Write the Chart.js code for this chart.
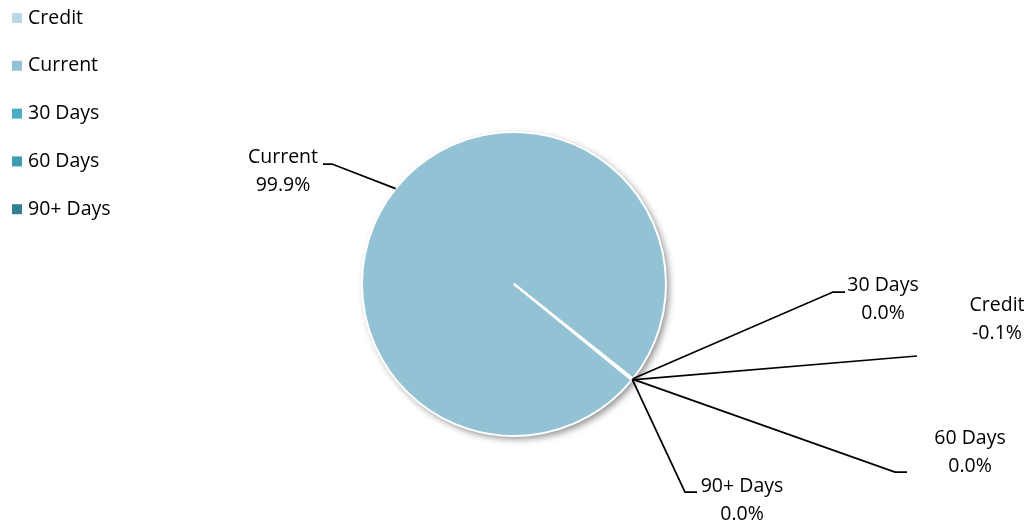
<!DOCTYPE html>
<html lang="en">
<head>
    <meta charset="UTF-8">
    <title>Aging Breakdown</title>
    <script src="https://cdn.jsdelivr.net/npm/chart.js@4.4.1/dist/chart.umd.min.js"></script>
    <style>
        body { margin: 0; background: #fff; }
        #wrap { width: 1029px; height: 524px; position: relative; }
    </style>
</head>
<body>
    <div id="wrap"><canvas id="agingPie" width="1029" height="524"></canvas></div>
    <script>
        // data (share of balance, in percent)
        const categories = ['Credit', 'Current', '30 Days', '60 Days', '90+ Days'];
        const shares = [-0.06, 99.925, 0.045, 0.045, 0.045];
        const sliceColors = ['#b7d8e4', '#93c2d4', '#4bacc6', '#3e9bb2', '#327f93'];

        // where each data label sits: elbow of leader line, end of line, text centre
        const labelSpots = {
            'Credit':   { elbow: [905, 357], end: [917, 356], text: [997, 305] },
            'Current':  { elbow: [332, 164], end: [323, 164], text: [283, 157] },
            '30 Days':  { elbow: [833, 292], end: [845, 292], text: [883, 285] },
            '60 Days':  { elbow: [895, 472], end: [907, 472], text: [970, 438] },
            '90+ Days': { elbow: [685, 492], end: [697, 492], text: [742, 486] }
        };

        const FONT = '19.5px "Open Sans", sans-serif';

        // soft drop shadow under the pie
        const pieShadow = {
            id: 'pieShadow',
            beforeDatasetsDraw(chart) {
                const arc = chart.getDatasetMeta(0).data[0];
                if (!arc) return;
                const ctx = chart.ctx;
                ctx.save();
                ctx.shadowColor = 'rgba(0,0,0,0.45)';
                ctx.shadowBlur = 7;
                ctx.shadowOffsetX = 3;
                ctx.shadowOffsetY = 3;
                ctx.fillStyle = '#ffffff';
                ctx.beginPath();
                ctx.arc(arc.x, arc.y, arc.outerRadius, 0, Math.PI * 2);
                ctx.fill();
                ctx.restore();
            }
        };

        // leader lines + value labels
        const pieLabels = {
            id: 'pieLabels',
            afterDatasetsDraw(chart) {
                const ctx = chart.ctx;
                const vals = chart.data.datasets[0].data;
                const total = vals.reduce((a, b) => a + b, 0);
                const arcs = chart.getDatasetMeta(0).data;
                ctx.save();
                ctx.font = FONT;
                ctx.textAlign = 'center';
                ctx.textBaseline = 'middle';
                arcs.forEach((arc, i) => {
                    const name = chart.data.labels[i];
                    const spot = labelSpots[name];
                    const mid = (arc.startAngle + arc.endAngle) / 2;
                    const ax = arc.x + Math.cos(mid) * arc.outerRadius;
                    const ay = arc.y + Math.sin(mid) * arc.outerRadius;
                    ctx.strokeStyle = '#000';
                    ctx.lineWidth = 1.75;
                    ctx.beginPath();
                    ctx.moveTo(ax, ay);
                    ctx.lineTo(spot.elbow[0], spot.elbow[1]);
                    ctx.lineTo(spot.end[0], spot.end[1]);
                    ctx.stroke();
                    const pct = (vals[i] / total * 100).toFixed(1) + '%';
                    ctx.fillStyle = '#000';
                    ctx.fillText(name, spot.text[0], spot.text[1]);
                    ctx.fillText(pct, spot.text[0], spot.text[1] + 28);
                });
                ctx.restore();
            }
        };

        // legend down the left side
        const sideLegend = {
            id: 'sideLegend',
            afterDraw(chart) {
                const ctx = chart.ctx;
                const colors = chart.data.datasets[0].backgroundColor;
                ctx.save();
                ctx.font = FONT;
                ctx.textAlign = 'left';
                ctx.textBaseline = 'middle';
                chart.data.labels.forEach((name, i) => {
                    const y = 18 + i * 47.8;
                    ctx.fillStyle = colors[i];
                    ctx.fillRect(12, y - 5, 10, 10);
                    ctx.fillStyle = '#000';
                    ctx.fillText(name, 28, y);
                });
                ctx.restore();
            }
        };

        const ctx = document.getElementById('agingPie').getContext('2d');
        const agingPie = new Chart(ctx, {
            type: 'pie',
            data: {
                labels: categories,
                datasets: [{
                    data: shares,
                    backgroundColor: sliceColors,
                    borderColor: '#ffffff',
                    borderWidth: 2
                }]
            },
            options: {
                responsive: false,
                animation: false,
                rotation: 129,
                layout: { padding: { left: 361, right: 362, top: 131, bottom: 87 } },
                plugins: {
                    legend: { display: false },
                    tooltip: { enabled: false }
                }
            },
            plugins: [pieShadow, pieLabels, sideLegend]
        });
    </script>
</body>
</html>
